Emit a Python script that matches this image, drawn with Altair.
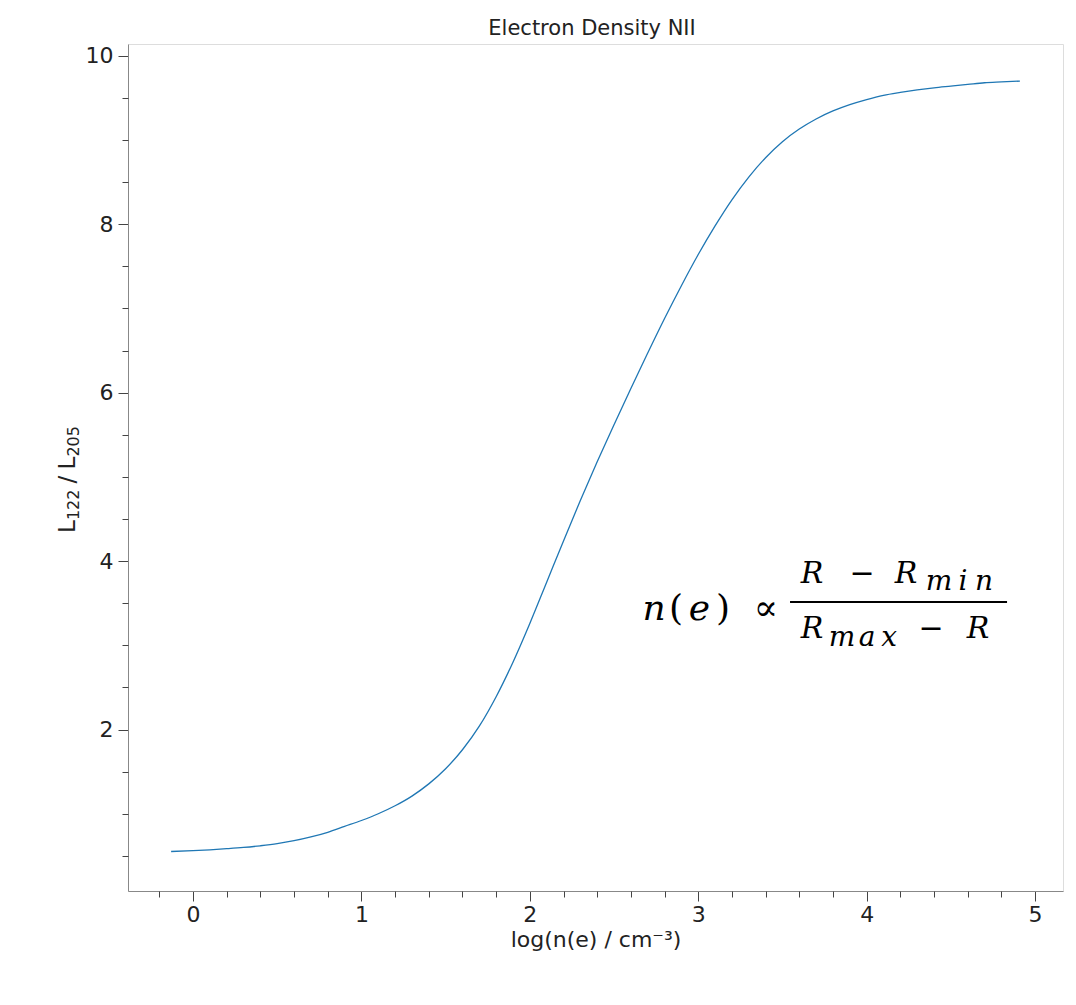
import altair as alt
import pandas as pd

# ---- data ----
log_ne = [-0.13, 0.0, 0.1, 0.2, 0.3, 0.4, 0.5, 0.6, 0.7, 0.8, 0.9, 1.0, 1.1, 1.2, 1.3,
          1.4, 1.5, 1.6, 1.7, 1.8, 1.9, 2.0, 2.1, 2.2, 2.3, 2.4, 2.5, 2.6, 2.7, 2.8,
          2.9, 3.0, 3.1, 3.2, 3.3, 3.4, 3.5, 3.6, 3.7, 3.8, 3.9, 4.0, 4.1, 4.2, 4.3,
          4.4, 4.5, 4.6, 4.7, 4.8, 4.91]
ratio = [0.552, 0.562, 0.572, 0.585, 0.60, 0.62, 0.645, 0.68, 0.725, 0.78, 0.85, 0.92, 1.00, 1.095, 1.21,
         1.355, 1.535, 1.76, 2.04, 2.39, 2.80, 3.26, 3.75, 4.24, 4.72, 5.18, 5.62, 6.05, 6.47, 6.88,
         7.27, 7.64, 7.98, 8.29, 8.56, 8.79, 8.98, 9.13, 9.25, 9.345, 9.42, 9.48, 9.53, 9.565, 9.595,
         9.62, 9.64, 9.66, 9.68, 9.69, 9.70]

x_major = [0, 1, 2, 3, 4, 5]
x_minor = [-0.2, 0.2, 0.4, 0.6, 0.8, 1.2, 1.4, 1.6, 1.8, 2.2, 2.4, 2.6, 2.8, 3.2, 3.4,
           3.6, 3.8, 4.2, 4.4, 4.6, 4.8]
y_major = [2, 4, 6, 8, 10]
y_minor = [0.5, 1, 1.5, 2.5, 3, 3.5, 4.5, 5, 5.5, 6.5, 7, 7.5, 8.5, 9, 9.5]

title_text = "Electron Density NII"
x_title = "log(n(e) / cm⁻³)"
y_title_parts = ["L", "122", "/", "L", "205"]

# formula annotation glyphs (text only)
row_glyphs = ["n", "(", "e", ")", "∝"]
num_glyphs = ["R", "−", "R"]
num_sub = ["m", "i", "n"]
den_glyphs = ["R", "−", "R"]
den_sub = ["m", "a", "x"]

# ---- layout / style ----
W, H = 935, 847
FONT = "DejaVu Sans"
MFONT = "DejaVu Serif"
TICK_FS = 22
xs = alt.Scale(domain=[-0.386, 5.166], nice=False, zero=False)
ys = alt.Scale(domain=[0.083, 10.14], nice=False, zero=False)

df = pd.DataFrame({"x": log_ne, "y": ratio})

major_axis_x = alt.Axis(values=x_major, tickSize=10, tickColor="#444", tickWidth=1,
                        domainColor="#888", labelFont=FONT, labelFontSize=TICK_FS,
                        labelColor="#222", labelPadding=3, grid=False,
                        title=x_title, titleFont=FONT, titleFontSize=TICK_FS,
                        titleFontWeight="normal", titleColor="#222", titlePadding=4,
                        orient="bottom", format="d")
major_axis_y = alt.Axis(values=y_major, tickSize=10, tickColor="#444", tickWidth=1,
                        domainColor="#888", labelFont=FONT, labelFontSize=TICK_FS,
                        labelColor="#222", labelPadding=5, grid=False, title=None,
                        orient="left", format="d")
minor_axis_x = alt.Axis(values=x_minor, tickSize=6, tickColor="#444", tickWidth=1,
                        domain=False, labels=False, grid=False, title=None, orient="bottom")
minor_axis_y = alt.Axis(values=y_minor, tickSize=6, tickColor="#444", tickWidth=1,
                        domain=False, labels=False, grid=False, title=None, orient="left")

line = alt.Chart(df).mark_line(color="#1f77b4", strokeWidth=1.3, interpolate="monotone").encode(
    x=alt.X("x:Q", scale=xs, axis=major_axis_x),
    y=alt.Y("y:Q", scale=ys, axis=major_axis_y),
)
minor = alt.Chart(df).mark_line(opacity=0).encode(
    x=alt.X("x:Q", scale=xs, axis=minor_axis_x),
    y=alt.Y("y:Q", scale=ys, axis=minor_axis_y),
)

# --- annotation positions converted from the page into data units ---
def pdx(px):
    return (px - 193) / 168.4

def pdy(py):
    return (898 - py) / 84.2

rows = []
for g, px in zip(row_glyphs, [654, 676, 699.5, 723, 766]):
    rows.append({"t": g, "x": pdx(px), "y": pdy(620), "s": 36,
                 "it": g in ("n", "e")})
for g, px in zip(num_glyphs, [812, 862, 906]):
    rows.append({"t": g, "x": pdx(px), "y": pdy(583), "s": 30, "it": g != "−"})
for g, px in zip(num_sub, [939, 963, 984]):
    rows.append({"t": g, "x": pdx(px), "y": pdy(590), "s": 28, "it": True})
for g, px in zip(den_glyphs, [812, 931, 978]):
    rows.append({"t": g, "x": pdx(px), "y": pdy(638), "s": 30, "it": g != "−"})
for g, px in zip(den_sub, [842, 867, 889]):
    rows.append({"t": g, "x": pdx(px), "y": pdy(646), "s": 28, "it": True})
ann = pd.DataFrame(rows)

def text_layer(sub, style):
    return alt.Chart(sub).mark_text(font=MFONT, fontStyle=style, color="black",
                                    align="center", baseline="alphabetic").encode(
        x=alt.X("x:Q", scale=xs, axis=None),
        y=alt.Y("y:Q", scale=ys, axis=None),
        text="t:N",
        size=alt.Size("s:Q", scale=None, legend=None),
    )

ital = text_layer(ann[ann["it"]], "italic")
upr = text_layer(ann[~ann["it"]], "normal")

bar = alt.Chart(pd.DataFrame({"x": [pdx(790)], "x2": [pdx(1007)], "y": [pdy(602)]})).mark_rule(
    color="black", strokeWidth=2).encode(
    x=alt.X("x:Q", scale=xs, axis=None), x2="x2:Q", y=alt.Y("y:Q", scale=ys, axis=None))

# y-axis title with real subscripts, rotated (reads bottom to top)
ytr = []
starts = [533, 520.2, 483.5, 469.5, 456.7]
for part, py in zip(y_title_parts, starts):
    sub = part.isdigit()
    ytr.append({"t": part, "x": pdx(79 if sub else 75), "y": pdy(py), "s": 16 if sub else 23})
ytitle = alt.Chart(pd.DataFrame(ytr)).mark_text(
    font=FONT, angle=270, align="left", baseline="alphabetic", color="#222").encode(
    x=alt.X("x:Q", scale=xs, axis=None),
    y=alt.Y("y:Q", scale=ys, axis=None),
    text="t:N",
    size=alt.Size("s:Q", scale=None, legend=None),
)

# chart title, placed above the plot
title = alt.Chart(pd.DataFrame({"t": [title_text], "x": [pdx(592)], "y": [pdy(35)]})).mark_text(
    font=FONT, fontSize=21, align="center", baseline="alphabetic", color="#222").encode(
    x=alt.X("x:Q", scale=xs, axis=None),
    y=alt.Y("y:Q", scale=ys, axis=None),
    text="t:N",
)

chart = alt.layer(line, minor, ital, upr, bar, ytitle, title).resolve_axis(
    x="independent", y="independent"
).properties(
    width=W, height=H,
    autosize=alt.AutoSizeParams(type="none"),
    padding={"left": 120, "top": 36, "right": 5, "bottom": 100},
    background="white",
).configure_view(stroke="#dddddd", strokeWidth=1)

chart.save("out.html", embed_options={"renderer": "svg", "actions": False})
